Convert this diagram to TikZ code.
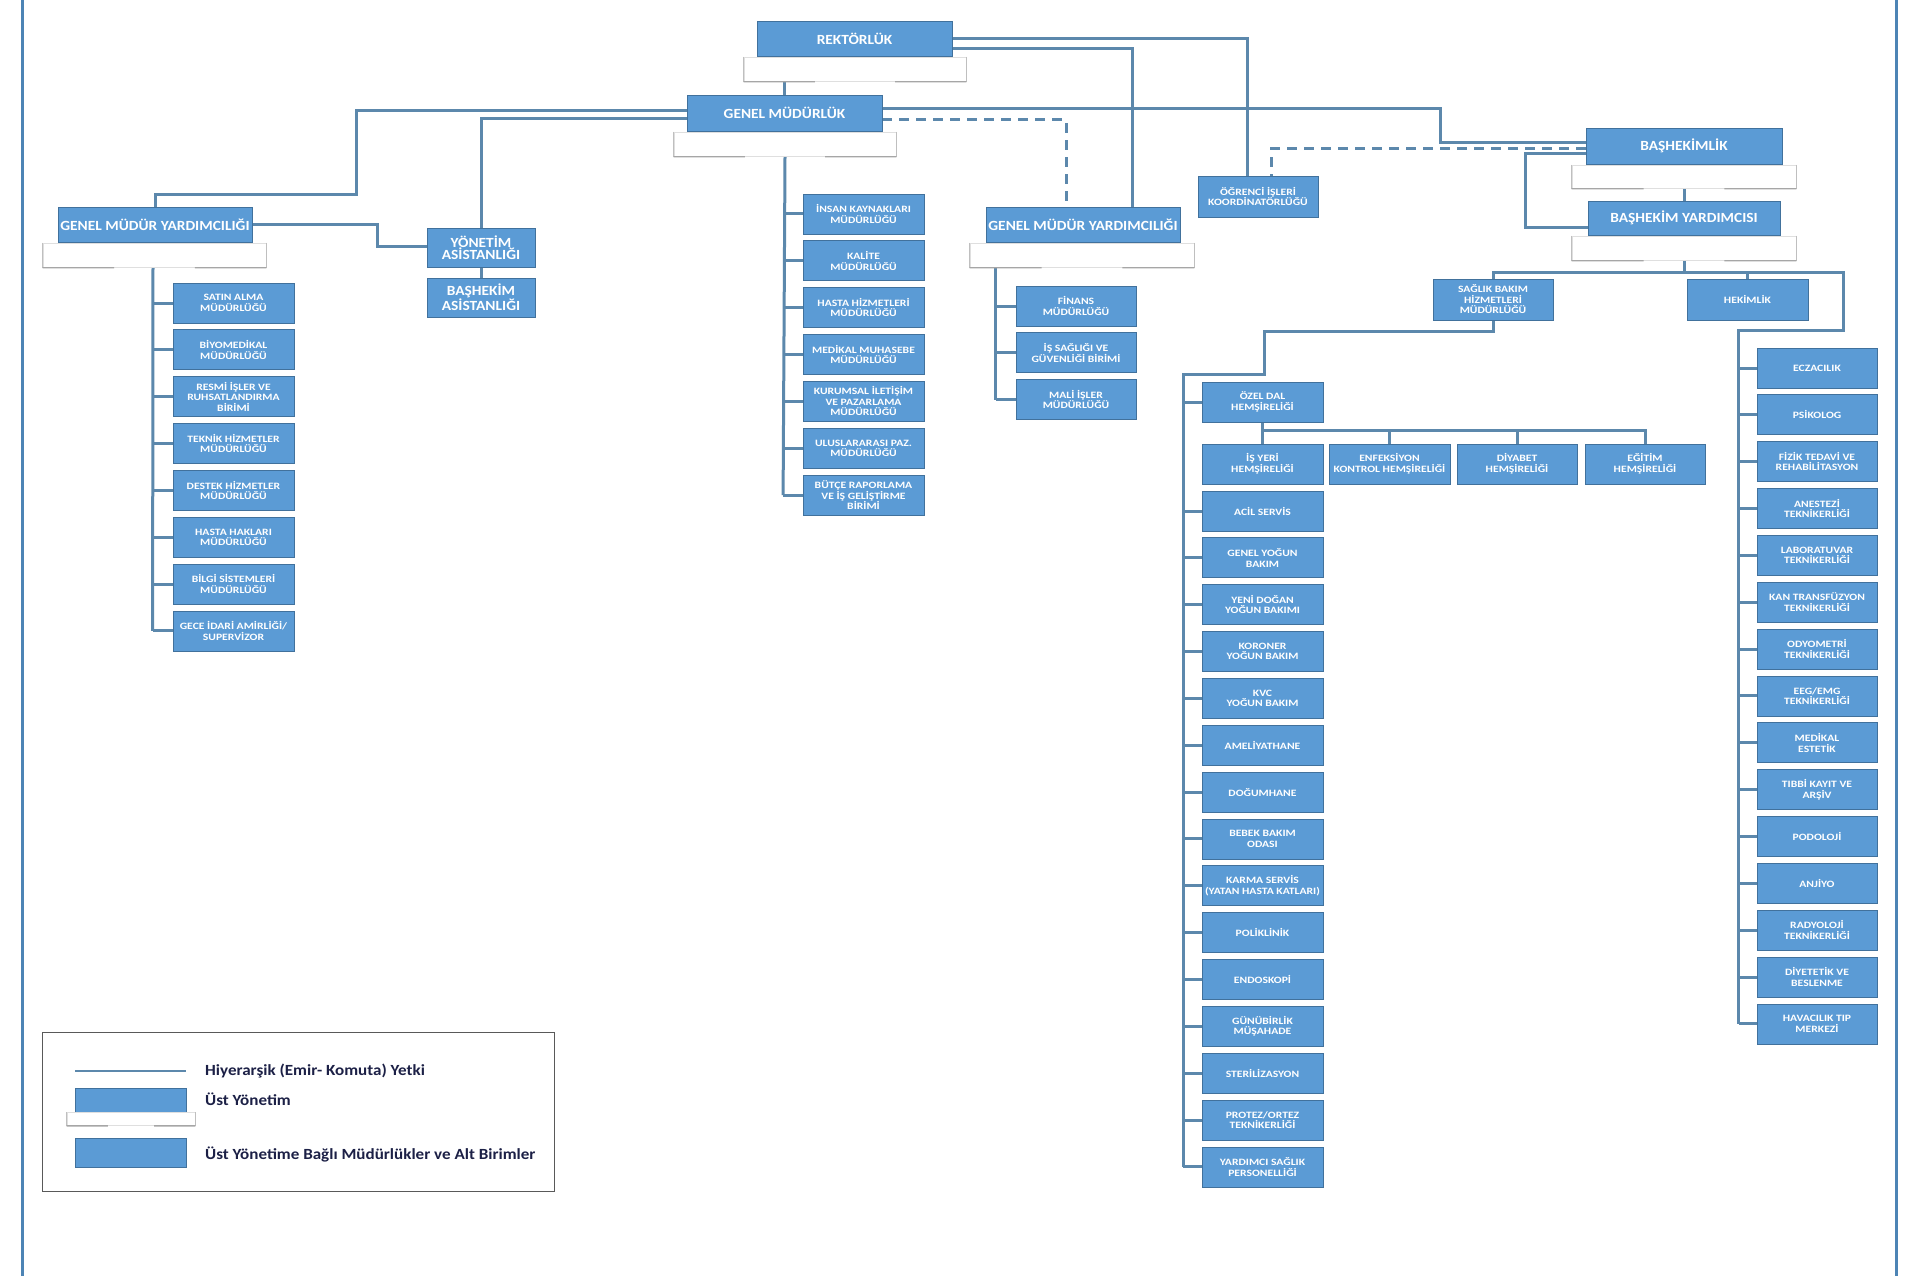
\documentclass[tikz,border=0pt]{standalone}
\usepackage{fontspec}
\setmainfont{Carlito}
\newfontfamily\bigfont{Carlito}[FakeStretch=1.1]
\newfontfamily\smallfont{Carlito}[FakeStretch=1.2]
\newfontfamily\legfont{Carlito}[FakeStretch=1.1]
\usetikzlibrary{calc}
\definecolor{boxblue}{RGB}{91,155,213}
\definecolor{boxedge}{RGB}{65,113,156}
\definecolor{linkblue}{RGB}{92,136,172}
\definecolor{navy}{RGB}{28,32,70}
\pgfdeclarelayer{bg}
\pgfsetlayers{bg,main}
\tikzset{
 sbox/.style={draw=boxedge, line width=0.8pt, fill=boxblue, text=white,
   minimum width=121pt, minimum height=40pt, inner sep=0pt, align=center,
   font=\smallfont\fontsize{9.7}{10.5}\selectfont\bfseries},
 bbox/.style={sbox, font=\bigfont\fontsize{14}{12.5}\selectfont\bfseries},
 shbox/.style={draw=gray!25, line width=0.8pt, fill=white, inner sep=0pt,
   minimum height=24pt, minimum width=222pt, anchor=north},
 shedge/.style={draw=gray!70, line width=1.4pt},
 shside/.style={draw=gray!50, line width=0.9pt},
 link/.style={draw=linkblue, line width=3pt},
 dlink/.style={link, dash pattern=on 10pt off 7pt},
 border/.style={draw=boxblue!85!black, line width=3pt},
 lgtext/.style={text=navy, anchor=west, inner sep=0pt,
   font=\legfont\fontsize{15.5}{17}\selectfont\bfseries},
}
\newcommand\shadelines[1]{%
 \draw[shside] (#1.north west) -- (#1.south west);
 \draw[shside] (#1.north east) -- (#1.south east);
 \draw[shedge] (#1.south west) -- ($(#1.south west)!0.32!(#1.south east)$);
 \draw[shedge] ($(#1.south west)!0.68!(#1.south east)$) -- (#1.south east);
}
\begin{document}
\begin{tikzpicture}[x=1pt,y=-1pt]
\begin{pgfonlayer}{bg}
\fill[white] (0,0) rectangle (1920,1276);
\end{pgfonlayer}
\useasboundingbox (0,0) rectangle (1920,1276);
% page border lines
\draw[border] (22,0) -- (22,1276);
\draw[border] (1896,0) -- (1896,1276);

% upper management
\node[bbox, minimum width=195pt, minimum height=35pt] (rek) at (854.5,38.5) {REKTÖRLÜK};
\node[shbox] (rek-s) at (855,57) {};
\node[bbox, minimum width=195pt, minimum height=36pt] (gm) at (784.5,113) {GENEL MÜDÜRLÜK};
\node[shbox] (gm-s) at (785,132) {};
\node[bbox, minimum width=194pt, minimum height=35pt] (gmy1) at (155,224.5) {GENEL MÜDÜR YARDIMCILIĞI};
\node[shbox, minimum width=223pt] (gmy1-s) at (154.5,243) {};
\node[bbox, minimum width=194pt, minimum height=35pt] (gmy2) at (1083,224.5) {GENEL MÜDÜR YARDIMCILIĞI};
\node[shbox, minimum width=224pt] (gmy2-s) at (1082,243) {};
\node[bbox, minimum width=196pt, minimum height=36pt] (bas) at (1684,146) {BAŞHEKİMLİK};
\node[shbox, minimum width=224pt, minimum height=23pt] (bas-s) at (1684,165) {};
\node[bbox, minimum width=192pt, minimum height=34pt] (bay) at (1684,218) {BAŞHEKİM YARDIMCISI};
\node[shbox, minimum width=224pt] (bay-s) at (1684,236) {};
\shadelines{rek-s}\shadelines{gm-s}\shadelines{gmy1-s}\shadelines{gmy2-s}\shadelines{bas-s}\shadelines{bay-s}

\node[bbox, minimum width=108pt, minimum height=39pt] (yon) at (481,247.5) {YÖNETİM\\ASİSTANLIĞI};
\node[bbox, minimum width=108pt, minimum height=39pt] (basas) at (481,297.5) {BAŞHEKİM\\ASİSTANLIĞI};
\node[sbox, minimum width=120pt, minimum height=41pt] (ogr) at (1258,196.5) {ÖĞRENCİ İŞLERİ\\KOORDİNATÖRLÜĞÜ};
\node[sbox, minimum width=120pt, minimum height=41pt] (sag) at (1493,299.5) {SAĞLIK BAKIM\\HİZMETLERİ\\MÜDÜRLÜĞÜ};
\node[sbox, minimum width=121pt, minimum height=41pt] (hek) at (1747.5,299.5) {HEKİMLİK};

% left column
\foreach \t [count=\i] in {{SATIN ALMA\\MÜDÜRLÜĞÜ},{BİYOMEDİKAL\\MÜDÜRLÜĞÜ},{RESMİ İŞLER VE\\RUHSATLANDIRMA\\BİRİMİ},{TEKNİK HİZMETLER\\MÜDÜRLÜĞÜ},{DESTEK HİZMETLER\\MÜDÜRLÜĞÜ},{HASTA HAKLARI\\MÜDÜRLÜĞÜ},{BİLGİ SİSTEMLERİ\\MÜDÜRLÜĞÜ},{GECE İDARİ AMİRLİĞİ/\\SUPERVİZOR}}
 {\node[sbox] (L\i) at (233.5,{303+46.85*(\i-1)}) {\t};
  \begin{pgfonlayer}{bg}\draw[link] (L\i.west) -- ++(-20,0);\end{pgfonlayer}}

% middle column
\foreach \t [count=\i] in {{İNSAN KAYNAKLARI\\MÜDÜRLÜĞÜ},{KALİTE\\MÜDÜRLÜĞÜ},{HASTA HİZMETLERİ\\MÜDÜRLÜĞÜ},{MEDİKAL MUHASEBE\\MÜDÜRLÜĞÜ},{KURUMSAL İLETİŞİM\\VE PAZARLAMA\\MÜDÜRLÜĞÜ},{ULUSLARARASI PAZ.\\MÜDÜRLÜĞÜ},{BÜTÇE RAPORLAMA\\VE İŞ GELİŞTİRME\\BİRİMİ}}
 {\node[sbox] (M\i) at (863.5,{214+46.85*(\i-1)}) {\t};
  \begin{pgfonlayer}{bg}\draw[link] (M\i.west) -- ++(-19.5,0);\end{pgfonlayer}}

% second deputy column
\foreach \t [count=\i] in {{FİNANS\\MÜDÜRLÜĞÜ},{İŞ SAĞLIĞI VE\\GÜVENLİĞİ BİRİMİ},{MALİ İŞLER\\MÜDÜRLÜĞÜ}}
 {\node[sbox, minimum width=120pt] (F\i) at (1076,{306+46.85*(\i-1)}) {\t};
  \begin{pgfonlayer}{bg}\draw[link] (F\i.west) -- ++(-20,0);\end{pgfonlayer}}

% nursing column
\node[sbox] (N0) at (1262.5,402) {ÖZEL DAL\\HEMŞİRELİĞİ};
\node[sbox] (isy) at (1262.5,464) {İŞ YERİ\\HEMŞİRELİĞİ};
\node[sbox] (enf) at (1389.5,464) {ENFEKSİYON\\KONTROL HEMŞİRELİĞİ};
\node[sbox, minimum width=120pt] (diy) at (1517,464) {DİYABET\\HEMŞİRELİĞİ};
\node[sbox, minimum width=120pt] (egi) at (1645,464) {EĞİTİM\\HEMŞİRELİĞİ};
\foreach \t [count=\i] in {{ACİL SERVİS},{GENEL YOĞUN\\BAKIM},{YENİ DOĞAN\\YOĞUN BAKIMI},{KORONER\\YOĞUN BAKIM},{KVC\\YOĞUN BAKIM},{AMELİYATHANE},{DOĞUMHANE},{BEBEK BAKIM\\ODASI},{KARMA SERVİS\\(YATAN HASTA KATLARI)},{POLİKLİNİK},{ENDOSKOPİ},{GÜNÜBİRLİK\\MÜŞAHADE},{STERİLİZASYON},{PROTEZ/ORTEZ\\TEKNİKERLİĞİ},{YARDIMCI SAĞLIK\\PERSONELLİĞİ}}
 {\node[sbox] (N\i) at (1262.5,{511+46.85*(\i-1)}) {\t};
  \begin{pgfonlayer}{bg}\draw[link] (N\i.west) -- ++(-18.5,0);\end{pgfonlayer}}

% right column
\foreach \t [count=\i] in {{ECZACILIK},{PSİKOLOG},{FİZİK TEDAVİ VE\\REHABİLİTASYON},{ANESTEZİ\\TEKNİKERLİĞİ},{LABORATUVAR\\TEKNİKERLİĞİ},{KAN TRANSFÜZYON\\TEKNİKERLİĞİ},{ODYOMETRİ\\TEKNİKERLİĞİ},{EEG/EMG\\TEKNİKERLİĞİ},{MEDİKAL\\ESTETİK},{TIBBİ KAYIT VE\\ARŞİV},{PODOLOJİ},{ANJİYO},{RADYOLOJİ\\TEKNİKERLİĞİ},{DİYETETİK VE\\BESLENME},{HAVACILIK TIP\\MERKEZİ}}
 {\node[sbox, minimum width=120pt] (R\i) at (1817,{368+46.85*(\i-1)}) {\t};
  \begin{pgfonlayer}{bg}\draw[link] (R\i.west) -- ++(-18,0);\end{pgfonlayer}}

\coordinate (fsp) at ([xshift=-20pt]F1.west);
\coordinate (nsp) at ([xshift=-18.5pt]N1.west);
\coordinate (rsp) at ([xshift=-18pt]R1.west);

\begin{pgfonlayer}{bg}
% top links
\draw[link] (gm.north) -- (gm.north |- rek-s.south);
\draw[link] (rek.east) -| ([xshift=-11pt]ogr.north);
\draw[link] ([yshift=-10.5pt]rek.east) -| ([xshift=49pt]gmy2.north);
\draw[link] ([yshift=2pt]gm.west) -| (356,195) -| (gmy1.north);
\draw[link] ([yshift=-6pt]gm.west) -| (yon.north);
\draw[link] ([yshift=4pt]gm.east) -| (1440,143) -- ([yshift=3pt]bas.west);
\draw[dlink] ([yshift=-7pt]gm.east) -| ([xshift=-17pt]gmy2.north);
\draw[dlink] ([yshift=-3pt]bas.west) -| ([xshift=13pt]ogr.north);
\draw[link] ([yshift=-8pt]bas.west) -| (1525,228) -- ([yshift=-10pt]bay.west);
\draw[link] (bay.north) -- (bay.north |- bas-s.south);
\draw[link] (gmy1.east) -| (377,247) -- ([yshift=0.5pt]yon.west);
\draw[link] (yon.south) -- (basas.north);
% column spines
\draw[link] ([xshift=-1.5pt]gmy1-s.south) -- ([xshift=-20pt]L8.west);
\draw[link] (gm-s.south) -- ([xshift=-19.5pt]M7.west);
\draw[link] (fsp |- gmy2-s.south) -- ([xshift=-20pt]F3.west);
% basekim yardimcisi branches
\draw[link] (bay-s.south) -- (1684,272);
\draw[link] (sag.north) |- (1843,272) |- (rsp |- 0,330) -- ([xshift=-18pt]R15.west);
\draw[link] (hek.north) -- (hek.north |- 0,272);
\draw[link] (sag.south) -- (1493,331) -| (1264,374) -| ([xshift=-18.5pt]N15.west);
\draw[link] (nsp |- N0.west) -- (N0.west);
% nursing specialties
\draw[link] (N0.south) -- (isy.north);
\draw[link] (N0.south |- 0,430) -| (egi.north);
\draw[link] (enf.north) -- (enf.north |- 0,430);
\draw[link] (diy.north) -- (diy.north |- 0,430);
\end{pgfonlayer}

% legend
\node[draw=gray!70!black, line width=0.8pt, minimum width=512pt, minimum height=159pt, inner sep=0pt, anchor=north west] (legend) at (42,1032) {};
\coordinate (lga) at (75,1071);
\coordinate (lgb) at (186,1071);
\draw[link, line width=2.4pt] (lga) -- (lgb);
\node[draw=boxedge, line width=0.8pt, fill=boxblue, minimum width=111pt, minimum height=24pt, inner sep=0pt, anchor=north west] (lg1) at (75,1088) {};
\node[shbox, minimum width=128pt, minimum height=13pt] (lg1-s) at (131,1112) {};
\shadelines{lg1-s}
\node[draw=boxedge, line width=0.8pt, fill=boxblue, minimum width=111pt, minimum height=29pt, inner sep=0pt, anchor=north west] (lg2) at (75,1138) {};
\node[lgtext] (lt1) at (205,1071) {Hiyerarşik (Emir- Komuta) Yetki};
\node[lgtext] (lt2) at (205,1099) {Üst Yönetim};
\node[lgtext] (lt3) at (205,1154) {Üst Yönetime Bağlı Müdürlükler ve Alt Birimler};
\end{tikzpicture}
\end{document}
